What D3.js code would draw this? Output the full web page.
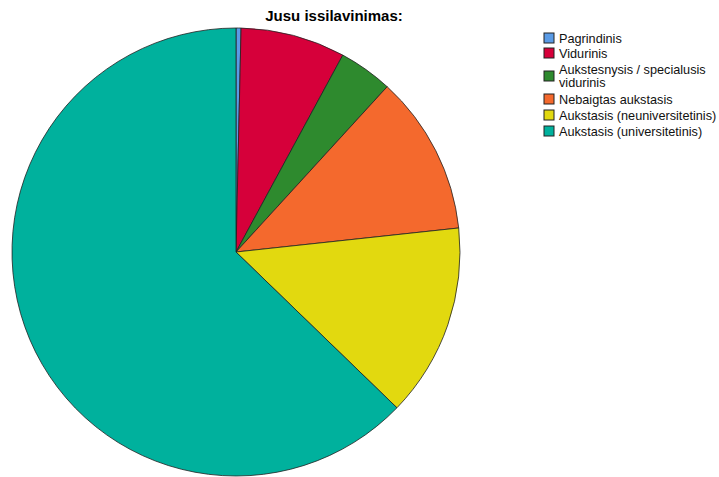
<!DOCTYPE html>
<html>
<head>
<meta charset="utf-8">
<script src="https://cdn.jsdelivr.net/npm/d3@7"></script>
<style>
  body { margin: 0; background: #fff; }
  svg { display: block; }
</style>
</head>
<body>
<div id="chart"></div>
<script>
const categories = [
    'Pagrindinis',
    'Vidurinis',
    'Aukstesnysis / specialusis vidurinis',
    'Nebaigtas aukstasis',
    'Aukstasis (neuniversitetinis)',
    'Aukstasis (universitetinis)'
];
const legendLines = [
    ['Pagrindinis'],
    ['Vidurinis'],
    ['Aukstesnysis / specialusis', 'vidurinis'],
    ['Nebaigtas aukstasis'],
    ['Aukstasis (neuniversitetinis)'],
    ['Aukstasis (universitetinis)']
];
const values = [0.36, 7.55, 3.88, 11.5, 13.95, 62.76];
const colors = ['#5a9be6', '#d6003a', '#2e8a2e', '#f4692d', '#e2d90f', '#00b19d'];

const width = 719;
const height = 477;

const svg = d3.select('#chart')
    .append('svg')
    .attr('width', width)
    .attr('height', height);

//title
svg.append('text')
    .attr('x', 334)
    .attr('y', 21)
    .attr('text-anchor', 'middle')
    .style('font-family', 'Liberation Sans, Arial, sans-serif')
    .style('font-weight', 'bold')
    .style('font-size', '15px')
    .text('Jusu issilavinimas:');

//pie
const radius = 224;
const g = svg.append('g')
    .attr('transform', 'translate(236,252)');

const pie = d3.pie().sort(null).value(d => d);
const arc = d3.arc().innerRadius(0).outerRadius(radius);

g.selectAll('path')
    .data(pie(values))
    .join('path')
    .attr('d', arc)
    .attr('fill', (d, i) => colors[i])
    .attr('stroke', '#222')
    .attr('stroke-width', 0.8)
    .attr('stroke-linejoin', 'round');

//legend
const rowY = [38, 53, 76, 99, 115, 131];
const legend = svg.append('g')
    .attr('transform', 'translate(544,0)');

const items = legend.selectAll('g')
    .data(categories)
    .join('g')
    .attr('transform', (d, i) => `translate(0,${rowY[i]})`);

items.append('rect')
    .attr('x', 0)
    .attr('y', -5)
    .attr('width', 10)
    .attr('height', 10)
    .attr('fill', (d, i) => colors[i])
    .attr('stroke', '#222')
    .attr('stroke-width', 1);

items.append('text')
    .style('font-family', 'Liberation Sans, Arial, sans-serif')
    .style('font-size', '12.7px')
    .attr('fill', '#111')
    .attr('y', (d, i) => legendLines[i].length > 1 ? -2.5 : 4.5)
    .each(function (d, i) {
        const t = d3.select(this);
        legendLines[i].forEach((l, j) => {
            t.append('tspan')
                .attr('x', 15)
                .attr('dy', j === 0 ? 0 : 13.5)
                .text(l);
        });
    });
</script>
</body>
</html>
